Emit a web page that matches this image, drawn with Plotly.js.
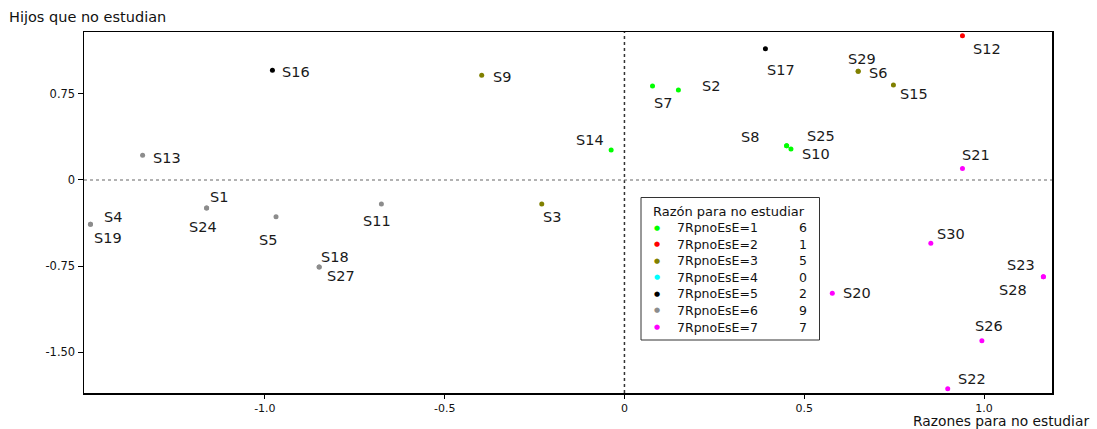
<!DOCTYPE html>
<html><head><meta charset="utf-8">
<script src="https://cdn.plot.ly/plotly-3.0.1.min.js"></script>
<style>html,body{margin:0;padding:0;background:#fff}#chart{width:1097px;height:429px}</style>
</head><body><div id="chart"></div>
<script>
// ---- data ----
const pointLabels = ["S14","S7","S2","S8","S25","S10",
  "S12",
  "S9","S3","S29","S6","S15",
  "S16","S17",
  "S13","S1","S24","S4","S19","S5","S11","S18","S27",
  "S21","S30","S20","S23","S28","S26","S22"];
const xValues = [-0.037,0.078,0.150,0.451,0.451,0.463,
  0.940,
  -0.397,-0.230,0.650,0.650,0.748,
  -0.979,0.392,
  -1.340,-1.162,-1.162,-1.485,-1.485,-0.969,-0.676,-0.849,-0.849,
  0.940,0.852,0.578,1.165,1.165,0.994,0.899];
const yValues = [0.262,0.820,0.785,0.299,0.299,0.270,
  1.258,
  0.913,-0.209,0.948,0.948,0.828,
  0.956,1.145,
  0.215,-0.244,-0.244,-0.386,-0.386,-0.320,-0.209,-0.759,-0.759,
  0.099,-0.552,-0.988,-0.843,-0.843,-1.401,-1.819];
const groupOf = [1,1,1,1,1,1, 2, 3,3,3,3,3, 5,5, 6,6,6,6,6,6,6,6,6, 7,7,7,7,7,7,7];
const groupIds = [1,2,3,4,5,6,7];
const groupNames = ["7RpnoEsE=1","7RpnoEsE=2","7RpnoEsE=3","7RpnoEsE=4","7RpnoEsE=5","7RpnoEsE=6","7RpnoEsE=7"];
const legendTitle = "Razón para no estudiar";
const xTickVals = [-1.0,-0.5,0,0.5,1.0];
const xTickText = ["-1.0","-0.5","0","0.5","1.0"];
const yTickVals = [0.75,0,-0.75,-1.5];
const yTickText = ["0.75","0","-0.75","-1.50"];
const xTitle = "Razones para no estudiar";
const yTitle = "Hijos que no estudian";

// ---- styling ----
const groupColors = ["#00ff00","#ff0000","#808000","#00ffff","#000000","#8c8c8c","#ff00ff"];
// label offsets in pixels (dx right, dy down) from each point
const labelDx = [-21,10,33,-37,34,25, 25, 20,10,4,20,21, 24,16, 24,12,-4,23,18,-8,-4,16,22, 14,20,25,-22,-30,7,24];
const labelDy = [-10,17,-4,-9,-10,5, 13, 2,13,-12,2,9, 2,21, 3,-11,19,-7,14,23,17,-10,9, -14,-9,0,-12,13,-15,-10];

const M = {l:84, r:45, t:32, b:36};
const W = 1097, H = 429;
const PW = W - M.l - M.r, PH = H - M.t - M.b;
const px = x => (x - M.l) / PW;
const py = y => (H - M.b - y) / PH;

const FONT = "DejaVu Sans, Verdana, sans-serif";

const traces = groupIds.map((g, gi) => {
  const idx = groupOf.map((v, i) => v === g ? i : -1).filter(i => i >= 0);
  return {
    type: "scatter", mode: "markers",
    x: idx.map(i => xValues[i]), y: idx.map(i => yValues[i]),
    marker: {color: groupColors[gi], size: 5},
    name: groupNames[gi], showlegend: false, hoverinfo: "skip"
  };
});

const annotations = pointLabels.map((t, i) => ({
  x: xValues[i], y: yValues[i], xref: "x", yref: "y", text: t, showarrow: false,
  xanchor: "center", yanchor: "middle", xshift: labelDx[i], yshift: -labelDy[i],
  font: {family: FONT, size: 14.5, color: "#1a1a1a"}
}));

annotations.push({xref:"paper", yref:"paper", x: px(7), y: py(17), xanchor:"left", yanchor:"middle",
  text: yTitle, showarrow:false, font:{family:FONT, size:14.5, color:"#111"}});
annotations.push({xref:"paper", yref:"paper", x: px(1091), y: py(421), xanchor:"right", yanchor:"middle",
  text: xTitle, showarrow:false, font:{family:FONT, size:13.8, color:"#111"}});

// legend
const counts = groupIds.map(g => groupOf.filter(v => v === g).length);
annotations.push({xref:"paper", yref:"paper", x: px(651), y: py(211), xanchor:"left", yanchor:"middle",
  text: legendTitle, showarrow:false, font:{family:FONT, size:13, color:"#111"}});
groupIds.forEach((g, gi) => {
  const ry = 227.7 + gi * 16.55;
  annotations.push({xref:"paper", yref:"paper", x: px(656.5), y: py(ry), xanchor:"center", yanchor:"middle",
    text: "●", showarrow:false, font:{family:FONT, size:7, color: groupColors[gi]}});
  annotations.push({xref:"paper", yref:"paper", x: px(675), y: py(ry), xanchor:"left", yanchor:"middle",
    text: groupNames[gi], showarrow:false, font:{family:FONT, size:12.5, color:"#111"}});
  annotations.push({xref:"paper", yref:"paper", x: px(809), y: py(ry), xanchor:"right", yanchor:"middle",
    text: String(counts[gi]), showarrow:false, font:{family:FONT, size:12.5, color:"#111"}});
});

const shapes = [
  {type:"line", xref:"x", yref:"paper", x0:0, x1:0, y0:0, y1:1, line:{color:"#333", width:1.5, dash:"dot"}},
  {type:"line", xref:"paper", yref:"y", x0:0, x1:1, y0:0, y1:0, line:{color:"#666", width:1.2, dash:"3px,3px"}},
  {type:"rect", xref:"paper", yref:"paper", x0:px(641), x1:px(819.5), y0:py(197.5), y1:py(340),
    line:{color:"#333", width:1}, fillcolor:"#ffffff", layer:"above"}
];

const layout = {
  width: W, height: H, margin: M,
  paper_bgcolor: "#ffffff", plot_bgcolor: "#ffffff",
  showlegend: false,
  xaxis: {range:[-1.503, 1.189], tickvals:xTickVals, ticktext:xTickText, showgrid:false, zeroline:false,
    showline:true, mirror:true, linecolor:"#000", linewidth:1.5, ticks:"outside", ticklen:4, tickcolor:"#000",
    tickfont:{family:FONT, size:11, color:"#111"}, fixedrange:true},
  yaxis: {range:[-1.857, 1.29], tickvals:yTickVals, ticktext:yTickText, showgrid:false, zeroline:false,
    showline:true, mirror:true, linecolor:"#000", linewidth:1.5, ticks:"outside", ticklen:5, tickcolor:"#000",
    tickfont:{family:FONT, size:11.5, color:"#111"}, fixedrange:true},
  shapes: shapes, annotations: annotations
};

Plotly.newPlot("chart", traces, layout, {displayModeBar:false, staticPlot:true});
</script>
</body></html>
